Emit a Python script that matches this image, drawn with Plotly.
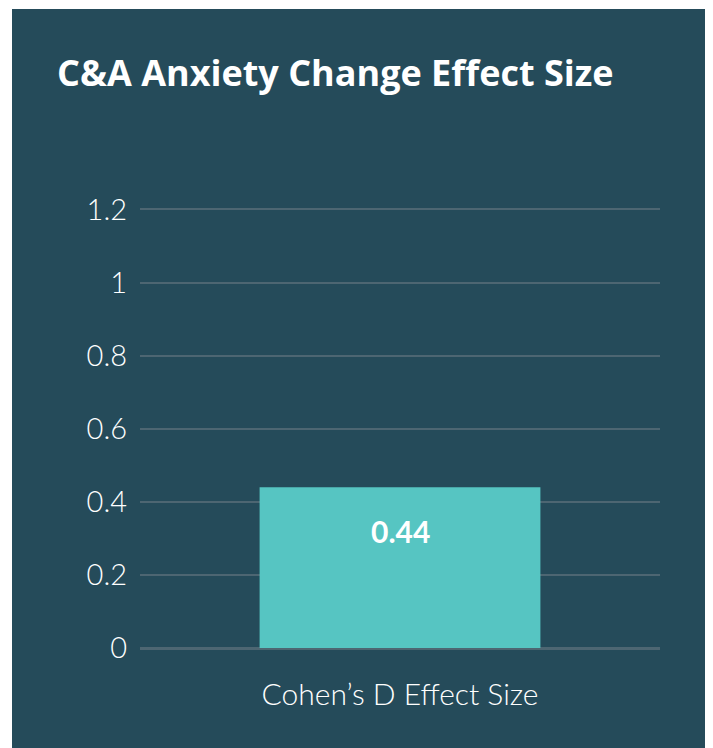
import plotly.graph_objects as go

categories = ["Cohen’s D Effect Size"]
values = [0.44]
labels = ["0.44"]
tick_vals = [0, 0.2, 0.4, 0.6, 0.8, 1, 1.2]
tick_text = ["0", "0.2", "0.4", "0.6", "0.8", "1", "1.2"]

BG = "#254b5a"
BAR = "#56c5c2"
GRID = "#4d6672"

# the page puts the figure 8px in from the top-left corner
OFF = 8
W, H = 713, 748
# plot area in page px: x 140..660, y 208..648
L, R, T, B = 140 - OFF, W - 660 + OFF, 208 - OFF, H - 648 + OFF
pw, ph = W - L - R, H - T - B


def px_x(x):
    return (x - OFF - L) / pw


def px_y(y):
    return (H - B - (y - OFF)) / ph


fig = go.Figure()

fig.add_trace(go.Bar(
    x=categories,
    y=values,
    marker=dict(color=BAR, line=dict(width=0)),
    hoverinfo="skip",
))

for c, v, t in zip(categories, values, labels):
    fig.add_annotation(
        x=c, y=v, text=f"<b>{t}</b>",
        showarrow=False, yanchor="middle", yshift=-44,
        font=dict(family="Lato", size=30, color="white"),
    )

# dark panel with white border
fig.add_shape(
    type="rect", xref="paper", yref="paper",
    x0=px_x(12), x1=px_x(708), y0=px_y(780), y1=px_y(9),
    fillcolor=BG, line=dict(width=0), layer="below",
)

fig.update_layout(
    width=W, height=H,
    margin=dict(l=L, r=R, t=T, b=B, pad=0),
    paper_bgcolor="white",
    plot_bgcolor="rgba(0,0,0,0)",
    bargap=0.46,
    showlegend=False,
    title=dict(
        text="<b>C&A Anxiety Change Effect Size</b>",
        x=(57 - OFF) / W, xanchor="left", xref="container",
        y=1 - (73 - OFF) / H, yanchor="middle", yref="container",
        font=dict(family="Open Sans", size=36, color="white"),
    ),
    xaxis=dict(
        showgrid=False, zeroline=False, showline=False,
        ticks="", ticklabelstandoff=26,
        tickfont=dict(family="Lato", size=30, color="white", weight=300),
    ),
    yaxis=dict(
        range=[0, 1.204], tickvals=tick_vals, ticktext=tick_text,
        showgrid=True, gridcolor=GRID, gridwidth=2,
        zeroline=True, zerolinecolor=GRID, zerolinewidth=3,
        showline=False, ticks="", ticklabelstandoff=12,
        tickfont=dict(family="Lato", size=29, color="white", weight=300),
    ),
)

fig.write_html("out.html")
